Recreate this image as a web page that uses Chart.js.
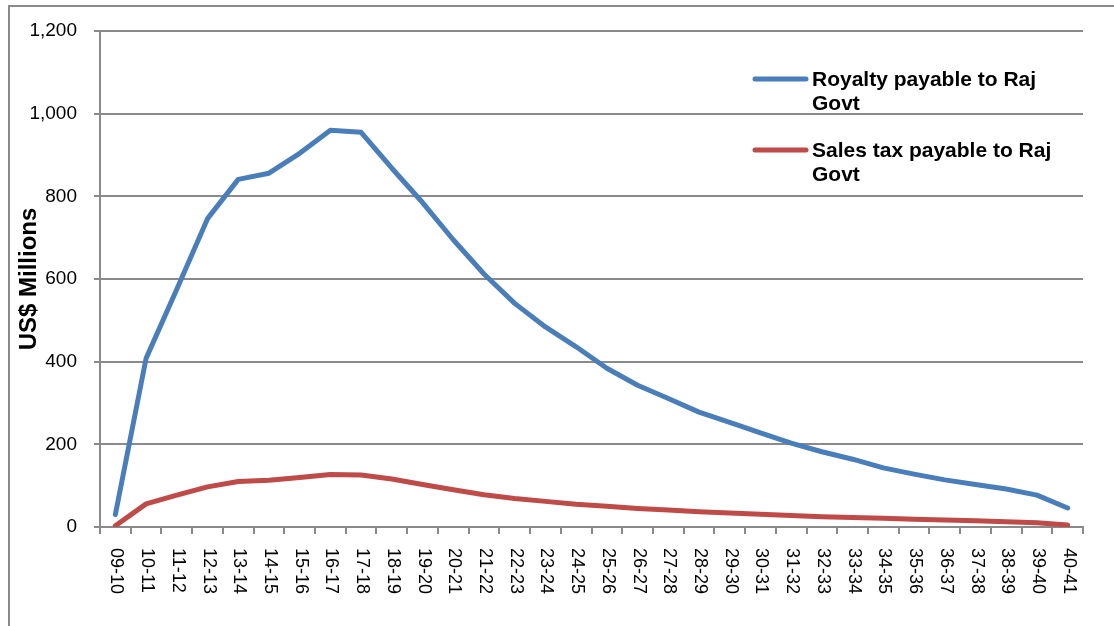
<!DOCTYPE html>
<html>
<head>
<meta charset="utf-8">
<script src="https://cdn.jsdelivr.net/npm/chart.js@4/dist/chart.umd.min.js"></script>
<style>
  body { margin: 0; background: #fff; }
  #wrap { position: relative; width: 1114px; height: 626px; overflow: hidden; }
  #frame { position: absolute; left: 8px; top: 5px; width: 1200px; height: 800px; border: 2px solid #8a8a8a; box-sizing: border-box; }
  #chart { position: absolute; left: 0; top: 0; }
</style>
</head>
<body>
<div id="wrap">
  <div id="frame"></div>
  <canvas id="chart" width="1114" height="626"></canvas>
</div>
<script>
// fiscal years 2009-10 .. 2040-41
const years = ['09-10', '10-11', '11-12', '12-13', '13-14', '14-15', '15-16', '16-17',
  '17-18', '18-19', '19-20', '20-21', '21-22', '22-23', '23-24', '24-25', '25-26',
  '26-27', '27-28', '28-29', '29-30', '30-31', '31-32', '32-33', '33-34', '34-35',
  '35-36', '36-37', '37-38', '38-39', '39-40', '40-41'];

const royalty = [30, 408, 575, 746, 841, 856, 904, 960, 955, 868, 785, 695, 612, 541,
  484, 436, 384, 343, 311, 278, 253, 228, 203, 182, 164, 143, 128, 114, 103, 92, 77, 46];

const salesTax = [3, 56, 77, 97, 110, 113, 120, 127, 126, 116, 103, 90, 78, 69,
  62, 55, 50, 45, 41, 37, 34, 31, 28, 25, 23, 21, 19, 17, 15, 13, 10, 5];

const yTicks = [0, 200, 400, 600, 800, 1000, 1200];

const seriesNames = ['Royalty payable to Raj Govt', 'Sales tax payable to Raj Govt'];
const legendLines = [['Royalty payable to Raj', 'Govt'], ['Sales tax payable to Raj', 'Govt']];

const FONT = '"Liberation Sans", Arial, sans-serif';

// x labels read top to bottom, and a two-line legend on the right
const excelBits = {
  id: 'excelBits',
  afterDraw(chart) {
    const ctx = chart.ctx;
    const xs = chart.scales.x;
    ctx.save();
    ctx.fillStyle = '#000';
    ctx.font = '18px ' + FONT;
    ctx.textAlign = 'left';
    ctx.textBaseline = 'middle';
    years.forEach((lab, i) => {
      const px = xs.getPixelForTick(i);
      ctx.save();
      ctx.translate(px + 1, xs.top + 21);
      ctx.rotate(Math.PI / 2);
      ctx.fillText(lab, 0, 0);
      ctx.restore();
    });

    ctx.font = 'bold 21px ' + FONT;
    const rows = [79, 150];
    chart.data.datasets.forEach((ds, i) => {
      const y = rows[i];
      ctx.strokeStyle = ds.borderColor;
      ctx.lineWidth = 5;
      ctx.lineCap = 'round';
      ctx.beginPath();
      ctx.moveTo(755, y);
      ctx.lineTo(806, y);
      ctx.stroke();
      ctx.fillStyle = '#000';
      legendLines[i].forEach((t, j) => ctx.fillText(t, 812, y + 1 + j * 24));
    });
    ctx.restore();
  }
};

new Chart(document.getElementById('chart'), {
  type: 'line',
  data: {
    labels: years,
    datasets: [
      { label: seriesNames[0], data: royalty, borderColor: '#4a7ebb', borderWidth: 5, pointRadius: 0, tension: 0, borderJoinStyle: 'round', borderCapStyle: 'round' },
      { label: seriesNames[1], data: salesTax, borderColor: '#be4b48', borderWidth: 5, pointRadius: 0, tension: 0, borderJoinStyle: 'round', borderCapStyle: 'round' }
    ]
  },
  options: {
    responsive: false,
    animation: false,
    layout: { padding: { left: 0, top: 31, right: 31, bottom: 0 } },
    plugins: { legend: { display: false }, tooltip: { enabled: false } },
    scales: {
      x: {
        offset: true,
        grid: { offset: true, drawOnChartArea: false, drawTicks: true, tickLength: 7, color: '#8a8a8a', lineWidth: 2 },
        border: { color: '#8a8a8a', width: 2 },
        ticks: { display: false },
        afterFit(s) { s.height = 99; }
      },
      y: {
        min: 0,
        max: 1200,
        afterBuildTicks(s) { s.ticks = yTicks.map(v => ({ value: v })); },
        grid: { color: '#8a8a8a', lineWidth: 2, tickLength: 6 },
        border: { color: '#8a8a8a', width: 2 },
        ticks: {
          color: '#000',
          padding: 17,
          font: { family: FONT, size: 19 },
          callback: v => v.toLocaleString('en-US')
        },
        title: {
          display: true,
          text: 'US$ Millions',
          color: '#000',
          font: { family: FONT, size: 24, weight: 'bold' },
          padding: { top: 15, bottom: 0 }
        },
        afterFit(s) { s.width = 100; }
      }
    }
  },
  plugins: [excelBits]
});
</script>
</body>
</html>
